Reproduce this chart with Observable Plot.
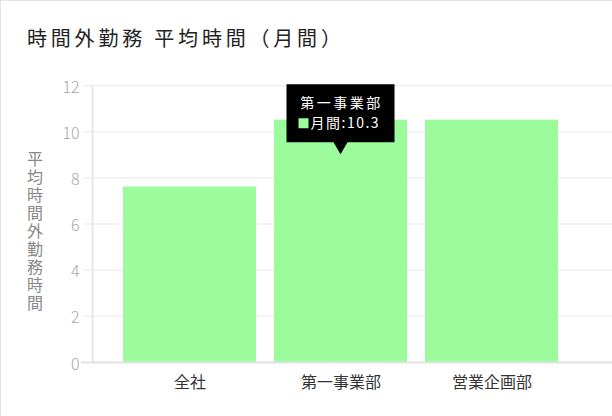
<!DOCTYPE html>
<html>
<head>
<meta charset="utf-8">
<script src="https://cdn.jsdelivr.net/npm/d3@7"></script>
<script src="https://cdn.jsdelivr.net/npm/@observablehq/plot@0.6"></script>
<style>
  html, body { margin: 0; padding: 0; background: #fff; }
  #wrap { position: relative; width: 612px; height: 416px; box-sizing: border-box;
          border-top: 1px solid #e4e4e4; border-left: 1px solid #e4e4e4; overflow: hidden;
          font-family: "Noto Sans CJK JP", sans-serif; }
  #title { position: absolute; left: 26px; top: 26px; font-size: 20px; line-height: 22px;
           letter-spacing: 3.8px; color: #222; white-space: pre; }
  #chart { position: absolute; left: -1px; top: 65px; }
</style>
</head>
<body>
<div id="wrap">
  <div id="title"></div>
  <div id="chart"></div>
</div>
<script>
const titleText = "時間外勤務 平均時間（月間）";
const yLabel = "平均時間外勤務時間";
const categories = ["全社", "第一事業部", "営業企画部"];
const values = [7.6, 10.5, 10.5];
const yTicks = [0, 2, 4, 6, 8, 10, 12];
const barColor = "#9cfc9c";
// tooltip shown in the reference
const tipCategory = "第一事業部";
const tipSeries = "月間";
const tipValueText = "10.3";
const tipHoverY = 9;

document.getElementById("title").textContent = titleText;

const data = categories.map((c, i) => ({category: c, value: values[i]}));

const H = 350;
const chart = Plot.plot({
  width: 612,
  height: H,
  marginLeft: 92,
  marginRight: 0,
  marginTop: 19,
  marginBottom: 54,
  style: {fontFamily: "'Noto Sans CJK JP', sans-serif", background: "transparent", overflow: "visible"},
  x: {domain: categories, paddingInner: 0.118, paddingOuter: 0.273, align: 0.361, label: null},
  y: {domain: [0, 12], ticks: yTicks, label: null},
  marks: [
    Plot.ruleY(yTicks, {stroke: "#efefef", strokeWidth: 1.5, insetLeft: -8}),
    Plot.frame({anchor: "left", stroke: "#e8e8e8", strokeWidth: 2}),
    Plot.barY(data, {x: "category", y: "value", fill: barColor}),
    Plot.ruleY([0], {stroke: "#e3e3e3", strokeWidth: 2, insetLeft: -11}),
    Plot.axisY({ticks: yTicks, tickSize: 0, tickPadding: 13, fontSize: 16, fill: "#a6a6a6", fontWeight: 300, dy: 2, letterSpacing: 1}),
    Plot.axisX({tickSize: 0, tickPadding: 14, fontSize: 16, fill: "#333", letterSpacing: 2})
  ]
});
document.getElementById("chart").appendChild(chart);

const xs = chart.scale("x"), ys = chart.scale("y");
const svg = d3.select(chart.tagName.toLowerCase() === "svg" ? chart : chart.querySelector("svg"));

// vertical y-axis title
const yMid = (ys.range[0] + ys.range[1]) / 2;
svg.append("text")
  .attr("x", 35).attr("y", yMid + 8)
  .attr("text-anchor", "middle")
  .style("writing-mode", "vertical-rl")
  .attr("letter-spacing", 2)
  .attr("font-size", 16).attr("fill", "#888")
  .attr("font-family", "'Noto Sans CJK JP', sans-serif")
  .text(yLabel);

// tooltip, positioned through the chart's own scales
const cx = xs.apply(tipCategory) + xs.bandwidth / 2;
const tipY = ys.apply(tipHoverY);
const bw = 108, bh = 58, ph = 12, pw = 7;
const boxTop = tipY - ph - bh;
const g = svg.append("g").attr("font-family", "'Noto Sans CJK JP', sans-serif");
g.append("path")
  .attr("d", `M${cx - bw/2},${boxTop}H${cx + bw/2}V${boxTop + bh}H${cx + pw}L${cx},${tipY}L${cx - pw},${boxTop + bh}H${cx - bw/2}Z`)
  .attr("fill", "#000");
g.append("text").attr("x", cx + 1).attr("y", boxTop + 24).attr("text-anchor", "middle")
  .attr("fill", "#fff").attr("font-size", 14).attr("letter-spacing", 2.5).text(tipCategory);
g.append("rect").attr("x", cx - 42).attr("y", boxTop + 34).attr("width", 10).attr("height", 10).attr("fill", barColor);
g.append("text").attr("x", cx - 30).attr("y", boxTop + 44).attr("text-anchor", "start")
  .attr("fill", "#fff").attr("font-size", 14).attr("letter-spacing", 1.5).text(tipSeries + ":" + tipValueText);
</script>
</body>
</html>
